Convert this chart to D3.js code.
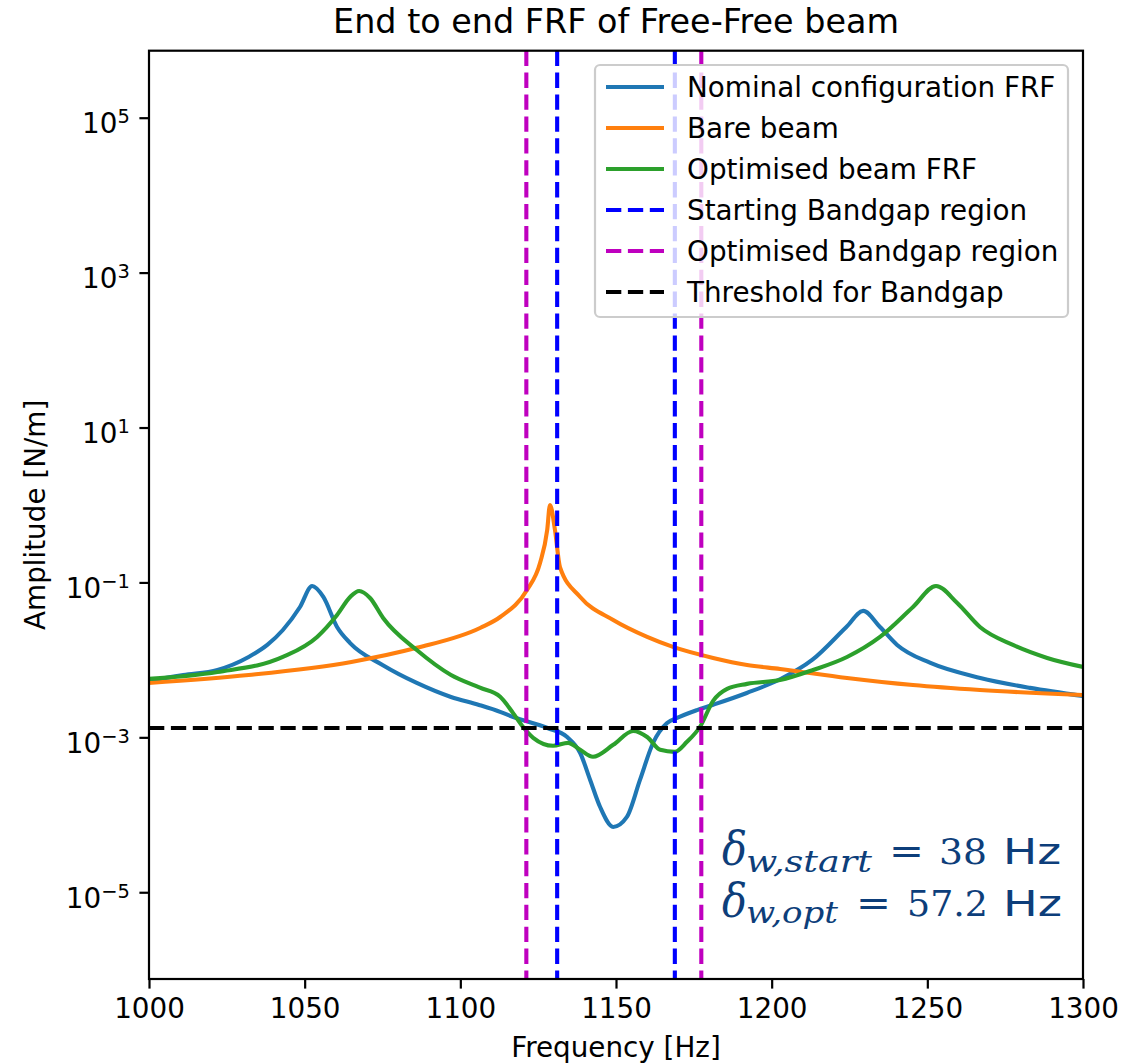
<!DOCTYPE html>
<html>
<head>
<meta charset="utf-8">
<script src="https://cdn.jsdelivr.net/npm/d3@7"></script>
<style>
    body { margin: 0; background: #ffffff; }
    #chart { font-family: "DejaVu Sans", sans-serif; }
</style>
</head>
<body>
<svg id="chart" width="1135" height="1064"></svg>
<script>
// Values (frequency in Hz, amplitude in N/m)
const nominalFreq = [1000, 1011, 1022, 1032, 1038, 1043, 1048.5, 1052.4, 1056, 1060.4, 1064.6, 1075, 1086, 1097, 1106,
    1113, 1117, 1128, 1134.3, 1138.5, 1141.7, 1144.9, 1149.1, 1153.5, 1157.7, 1161.9, 1166.4, 1169.6, 1176, 1181,
    1192, 1203, 1213, 1224, 1229.4, 1234.8, 1240.3, 1251, 1267, 1283, 1300];
const nominalAmp = [0.00535, 0.00638, 0.00741, 0.0109, 0.0156, 0.0243, 0.0482, 0.0899, 0.0649, 0.0266, 0.0165, 0.00859, 0.00504, 0.00332, 0.00262,
    0.00212, 0.00183, 0.00132, 0.00101, 0.000628, 0.000282, 0.000126, 0.0000697, 0.0000938, 0.000282, 0.000845, 0.00153, 0.00178, 0.00225, 0.00262,
    0.00374, 0.0057, 0.00998, 0.0266, 0.0429, 0.0266, 0.0156, 0.00912, 0.00585, 0.00435, 0.00342];

const bareFreq = [1000, 1032, 1065, 1086, 1106.5, 1112.8, 1121.4, 1125.6, 1127.9, 1128.8, 1130.4, 1132, 1138.5, 1149.1,
    1160, 1168.3, 1181.2, 1192.1, 1202.7, 1224.2, 1245.4, 1266.9, 1300];
const bareAmp = [0.00504, 0.00638, 0.0094, 0.0143, 0.026, 0.0358, 0.0798, 0.178, 0.475, 1.0, 0.475, 0.158, 0.0649, 0.0327,
    0.0198, 0.0147, 0.0106, 0.00859, 0.00764, 0.00585, 0.00474, 0.00409, 0.00352];

const optFreq = [1000, 1022, 1043, 1054, 1060.4, 1064.6, 1067.5, 1071, 1075.2, 1086, 1097, 1106.3, 1112.8, 1116.9, 1120.1,
    1123.4, 1129.8, 1134.6, 1138.5, 1142.6, 1149.1, 1155.5, 1160, 1164.2, 1168.9, 1172.8, 1177, 1181.2, 1185.7, 1192.1,
    1202.7, 1213.3, 1224.2, 1234.8, 1245.4, 1252.8, 1259.6, 1266.9, 1277.5, 1288.5, 1300];
const optAmp = [0.00568, 0.00698, 0.0109, 0.0198, 0.038, 0.0649, 0.0776, 0.063, 0.0348, 0.0134, 0.00638, 0.00437, 0.00334, 0.00207, 0.00137,
    0.000986, 0.000778, 0.000849, 0.00069, 0.000561, 0.0008, 0.00121, 0.00101, 0.00069, 0.00065, 0.000875, 0.00137, 0.00296, 0.00423, 0.0049,
    0.0055, 0.00741, 0.0109, 0.0198, 0.0482, 0.0899, 0.0543, 0.0266, 0.0156, 0.0106, 0.00811];

const startBandgap = [1131.1, 1168.9];
const optBandgap = [1121.2, 1177.4];
const bandgapThreshold = 0.00132;

const xTicks = [1000, 1050, 1100, 1150, 1200, 1250, 1300];
const yTickExponents = [-5, -3, -1, 1, 3, 5];

const legendItems = [
    { label: "Nominal configuration FRF", color: "#1f77b4", dashed: false },
    { label: "Bare beam", color: "#ff7f0e", dashed: false },
    { label: "Optimised beam FRF", color: "#2ca02c", dashed: false },
    { label: "Starting Bandgap region", color: "#0000ff", dashed: true },
    { label: "Optimised Bandgap region", color: "#bf00bf", dashed: true },
    { label: "Threshold for Bandgap", color: "#000000", dashed: true }
];

const plot = { left: 149, right: 1083, top: 50.7, bottom: 979 };
const fontSize = 27.8;
const lineWidth = 4.1;
const dashPattern = "15.3,6.6";

const svg = d3.select("#chart");

const x = d3.scaleLinear().domain([1000, 1300]).range([plot.left, plot.right]);
const y = d3.scaleLog().domain([Math.pow(10, -6.12), Math.pow(10, 5.865)]).range([plot.bottom, plot.top]);

svg.append("defs").append("clipPath")
    .attr("id", "plot-clip")
    .append("rect")
    .attr("x", plot.left)
    .attr("y", plot.top)
    .attr("width", plot.right - plot.left)
    .attr("height", plot.bottom - plot.top);

const marks = svg.append("g").attr("clip-path", "url(#plot-clip)");

const line = d3.line()
    .x(d => x(d[0]))
    .y(d => y(d[1]))
    .curve(d3.curveMonotoneX);

const series = [
    { freq: nominalFreq, amp: nominalAmp, color: "#1f77b4" },
    { freq: bareFreq, amp: bareAmp, color: "#ff7f0e" },
    { freq: optFreq, amp: optAmp, color: "#2ca02c" }
];

for (const s of series) {
    marks.append("path")
        .datum(d3.zip(s.freq, s.amp))
        .attr("fill", "none")
        .attr("stroke", s.color)
        .attr("stroke-width", lineWidth)
        .attr("stroke-linejoin", "round")
        .attr("stroke-linecap", "square")
        .attr("d", line);
}

// vertical bandgap limits (axvline style, full height)
const vlines = [
    ...startBandgap.map(f => ({ f, color: "#0000ff" })),
    ...optBandgap.map(f => ({ f, color: "#bf00bf" }))
];

marks.selectAll(".vline")
    .data(vlines)
    .join("line")
    .attr("class", "vline")
    .attr("x1", d => x(d.f))
    .attr("x2", d => x(d.f))
    .attr("y1", plot.top)
    .attr("y2", plot.bottom)
    .attr("stroke", d => d.color)
    .attr("stroke-width", lineWidth)
    .attr("stroke-dasharray", dashPattern);

marks.append("line")
    .attr("x1", plot.left)
    .attr("x2", plot.right)
    .attr("y1", y(bandgapThreshold))
    .attr("y2", y(bandgapThreshold))
    .attr("stroke", "#000000")
    .attr("stroke-width", lineWidth)
    .attr("stroke-dasharray", dashPattern);

// axes
const xAxis = svg.append("g")
    .attr("transform", `translate(0,${plot.bottom})`)
    .call(d3.axisBottom(x).tickValues(xTicks).tickFormat(d3.format("d")).tickSize(9.6).tickPadding(9.6));

const yAxis = svg.append("g")
    .attr("transform", `translate(${plot.left},0)`)
    .call(d3.axisLeft(y).tickValues(yTickExponents.map(e => Math.pow(10, e))).tickSize(9.6).tickPadding(9.6));

for (const axis of [xAxis, yAxis]) {
    axis.select(".domain").remove();
    axis.selectAll(".tick line").attr("stroke", "#000000").attr("stroke-width", 2.2);
    axis.selectAll(".tick text")
        .attr("font-size", fontSize)
        .attr("font-family", "DejaVu Sans, sans-serif")
        .attr("fill", "#000000");
}

// log tick labels as 10 with a superscript exponent
yAxis.selectAll(".tick text")
    .text(null)
    .each(function(d) {
        const exponent = Math.round(Math.log10(d));
        const label = d3.select(this);
        label.append("tspan").text("10");
        label.append("tspan")
            .attr("font-size", fontSize * 0.7)
            .attr("dy", -10)
            .text(exponent < 0 ? "\u2212" + Math.abs(exponent) : String(exponent));
    })
    .attr("dy", "0.55em");

// frame
svg.append("rect")
    .attr("x", plot.left)
    .attr("y", plot.top)
    .attr("width", plot.right - plot.left)
    .attr("height", plot.bottom - plot.top)
    .attr("fill", "none")
    .attr("stroke", "#000000")
    .attr("stroke-width", 2.2);

// titles
svg.append("text")
    .attr("x", (plot.left + plot.right) / 2)
    .attr("y", 33)
    .attr("text-anchor", "middle")
    .attr("font-size", 33.4)
    .text("End to end FRF of Free-Free beam");

svg.append("text")
    .attr("x", (plot.left + plot.right) / 2)
    .attr("y", 1057)
    .attr("text-anchor", "middle")
    .attr("font-size", fontSize)
    .text("Frequency [Hz]");

svg.append("text")
    .attr("transform", `translate(45,${(plot.top + plot.bottom) / 2}) rotate(-90)`)
    .attr("text-anchor", "middle")
    .attr("font-size", fontSize)
    .text("Amplitude [N/m]");

// legend
const legend = svg.append("g");

legend.append("rect")
    .attr("x", 595)
    .attr("y", 65)
    .attr("width", 473)
    .attr("height", 252)
    .attr("rx", 5)
    .attr("fill", "#ffffff")
    .attr("fill-opacity", 0.8)
    .attr("stroke", "#cccccc")
    .attr("stroke-width", 2.2);

const legendRow = legend.selectAll(".legend-row")
    .data(legendItems)
    .join("g")
    .attr("class", "legend-row")
    .attr("transform", (d, i) => `translate(0,${87 + i * 41})`);

legendRow.append("line")
    .attr("x1", 606)
    .attr("x2", 664)
    .attr("stroke", d => d.color)
    .attr("stroke-width", lineWidth)
    .attr("stroke-dasharray", d => d.dashed ? dashPattern : null);

legendRow.append("text")
    .attr("x", 687)
    .attr("dy", "0.36em")
    .attr("font-size", fontSize)
    .text(d => d.label);

// bandgap width annotation, drawn piece by piece to match the wide math font
const noteColor = "#0d3e7a";
const serif = "DejaVu Serif, Liberation Serif, serif";
const sans = "DejaVu Sans, sans-serif";
const notePieces = [
    // first line
    { text: "\u03b4", x: 722, y: 865, size: 46, len: 25, italic: true, font: serif },
    { text: "w,start", x: 746, y: 872, size: 30, len: 126, italic: true, font: serif },
    { text: "=", x: 889, y: 864, size: 38, len: 35, italic: false, font: serif },
    { text: "38", x: 939, y: 864, size: 35, len: 48, italic: false, font: serif },
    { text: "Hz", x: 1003, y: 864, size: 35, len: 58, italic: false, font: sans },
    // second line
    { text: "\u03b4", x: 722, y: 917, size: 46, len: 25, italic: true, font: serif },
    { text: "w,opt", x: 746, y: 923, size: 30, len: 92, italic: true, font: serif },
    { text: "=", x: 856, y: 916, size: 38, len: 35, italic: false, font: serif },
    { text: "57.2", x: 907, y: 916, size: 35, len: 81, italic: false, font: serif },
    { text: "Hz", x: 1003, y: 916, size: 35, len: 59, italic: false, font: sans }
];

svg.append("g")
    .selectAll("text")
    .data(notePieces)
    .join("text")
    .attr("x", d => d.x)
    .attr("y", d => d.y)
    .attr("font-family", d => d.font)
    .attr("font-size", d => d.size)
    .attr("font-style", d => d.italic ? "italic" : "normal")
    .attr("textLength", d => d.len)
    .attr("lengthAdjust", "spacingAndGlyphs")
    .attr("fill", noteColor)
    .text(d => d.text);
</script>
</body>
</html>
